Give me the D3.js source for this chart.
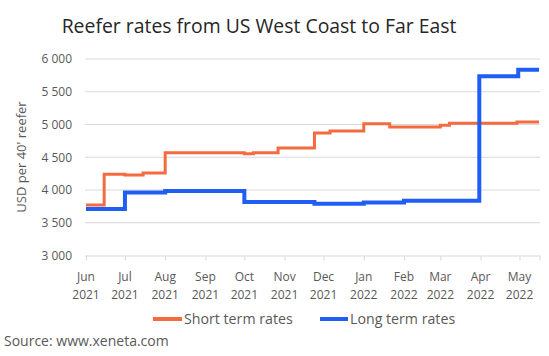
<!DOCTYPE html>
<html><head><meta charset="utf-8">
<script src="https://cdn.jsdelivr.net/npm/d3@7"></script>
<style>
body{margin:0;background:#fff;}
text{font-family:"Open Sans",sans-serif;}
</style></head>
<body><svg id="c" width="549" height="356"></svg>
<script>
const shortDates = ["2021-06-01","2021-06-15","2021-07-01","2021-07-15","2021-08-01","2021-10-01","2021-10-08","2021-10-27","2021-11-24","2021-12-06","2022-01-01","2022-01-21","2022-03-01","2022-03-08","2022-04-29","2022-05-16"];
const shortValues = [3770,4240,4230,4260,4570,4555,4570,4640,4870,4900,5010,4960,4990,5020,5040,5040];
const longDates = ["2021-06-01","2021-07-01","2021-08-01","2021-10-01","2021-11-24","2022-01-01","2022-02-01","2022-03-31","2022-04-30","2022-05-16"];
const longValues = [3710,3960,3985,3815,3790,3810,3835,5735,5835,5835];
const yTicks = [3000,3500,4000,4500,5000,5500,6000];
const xTickDates = ["2021-06-01","2021-07-01","2021-08-01","2021-09-01","2021-10-01","2021-11-01","2021-12-01","2022-01-01","2022-02-01","2022-03-01","2022-04-01","2022-05-01"];
const xTickLabels = [["Jun","2021"],["Jul","2021"],["Aug","2021"],["Sep","2021"],["Oct","2021"],["Nov","2021"],["Dec","2021"],["Jan","2022"],["Feb","2022"],["Mar","2022"],["Apr","2022"],["May","2022"]];
const seriesNames = ["Short term rates","Long term rates"];
const colors = ["#f46b40","#1f5ef5"];

const parse = d3.utcParse("%Y-%m-%d");
const svg = d3.select("#c");
const x = d3.scaleUtc().domain([parse("2021-06-01"), parse("2022-05-16")]).range([86, 539]);
const y = d3.scaleLinear().domain([3000, 6000]).range([255.5, 59]);

// title
svg.append("text").attr("x", 259).attr("y", 33).attr("text-anchor","middle")
  .attr("font-size", 19.4).attr("fill","#262626").text("Reefer rates from US West Coast to Far East");

// gridlines
svg.append("g").selectAll("line").data(yTicks.slice(1)).join("line")
  .attr("x1", 85).attr("x2", 540).attr("y1", d=>y(d)).attr("y2", d=>y(d))
  .attr("stroke","#d9d9d9").attr("stroke-width",1);

// y axis labels
const yAxis = d3.axisLeft(y).tickValues(yTicks).tickSize(0).tickPadding(0)
  .tickFormat(d => d3.format(",")(d).replace(",", " "));
const gy = svg.append("g").attr("transform","translate(72,0)").call(yAxis);
gy.select(".domain").remove();
gy.selectAll("text").attr("font-size", 12).attr("fill","#595959").attr("font-family","'Open Sans',sans-serif");

// x axis
const xAxis = d3.axisBottom(x).tickValues(xTickDates.map(parse)).tickSize(5).tickFormat("");
const gx = svg.append("g").attr("transform", `translate(0,${y(3000)})`).call(xAxis);
gx.select(".domain").attr("d", `M85,0.5H540`).attr("stroke","#d9d9d9");
gx.selectAll(".tick line").attr("stroke","#d9d9d9");
svg.append("line").attr("x1",540).attr("x2",540).attr("y1",y(3000)).attr("y2",y(3000)+5).attr("stroke","#d9d9d9");
const xl = svg.append("g").selectAll("text").data(xTickDates).join("text")
  .attr("x", d=>x(parse(d))).attr("y", 281).attr("text-anchor","middle")
  .attr("font-size", 12).attr("fill","#595959");
xl.append("tspan").attr("x", d=>x(parse(d))).text((d,i)=>xTickLabels[i][0]);
xl.append("tspan").attr("x", d=>x(parse(d))).attr("dy", 17.5).text((d,i)=>xTickLabels[i][1]);

// y title
svg.append("text").attr("transform","translate(26,157) rotate(-90)").attr("text-anchor","middle")
  .attr("font-size", 13).attr("fill","#595959").text("USD per 40' reefer");

// lines
const line = d3.line().curve(d3.curveStepAfter).x(d=>x(d[0])).y(d=>y(d[1]));
const sData = shortDates.map((d,i)=>[parse(d), shortValues[i]]);
const lData = longDates.map((d,i)=>[parse(d), longValues[i]]);
svg.append("path").datum(sData).attr("d", line).attr("fill","none").attr("stroke",colors[0]).attr("stroke-width",3);
svg.append("path").datum(lData).attr("d", line).attr("fill","none").attr("stroke",colors[1]).attr("stroke-width",4);

// legend
const leg = [{x1:153,x2:182,tx:184},{x1:320,x2:348,tx:350}];
leg.forEach((l,i)=>{
  svg.append("line").attr("x1",l.x1).attr("x2",l.x2).attr("y1",319).attr("y2",319)
    .attr("stroke",colors[i]).attr("stroke-width",4);
  svg.append("text").attr("x",l.tx).attr("y",324).attr("font-size",14.2).attr("fill","#595959").text(seriesNames[i]);
});

// source
svg.append("text").attr("x",4).attr("y",346).attr("font-size",14).attr("fill","#595959").text("Source: www.xeneta.com");
</script></body></html>
